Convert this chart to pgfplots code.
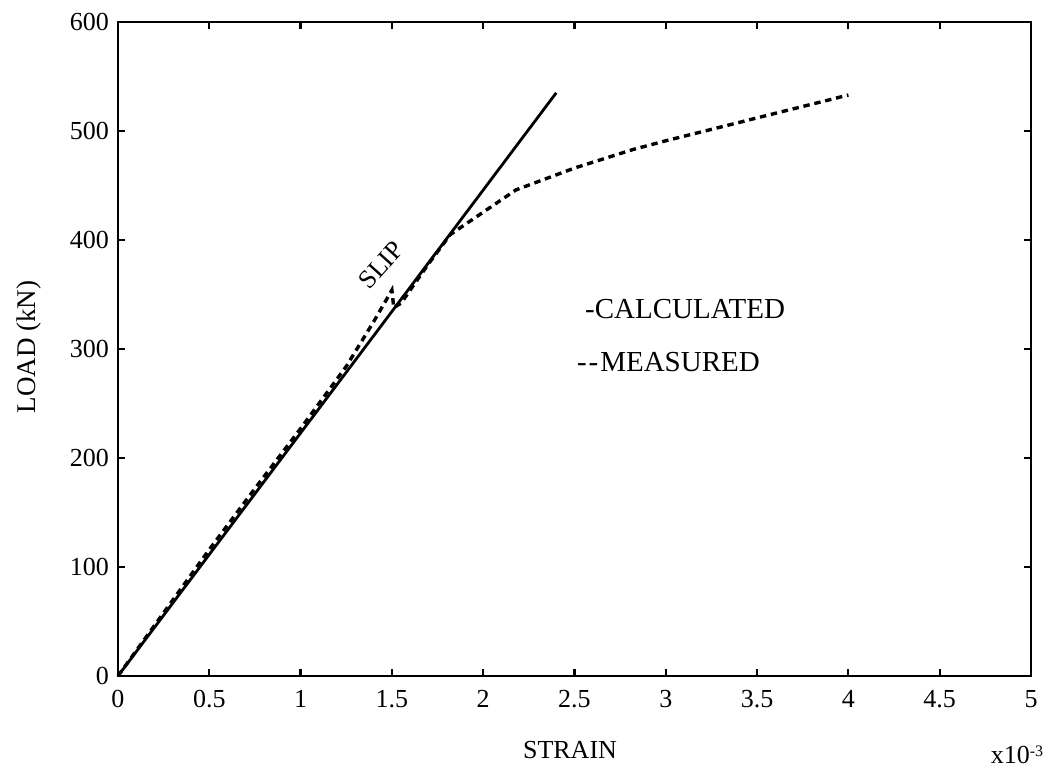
\documentclass[border=0pt]{standalone}
\usepackage{pgfplots}
\pgfplotsset{compat=1.18}
\usepackage{fontspec}
\setmainfont{Liberation Serif}
\begin{document}
\begin{tikzpicture}
\useasboundingbox (-59pt,-46.5pt) rectangle (469pt,338pt);
\begin{axis}[
  at={(0,0)}, anchor=south west,
  scale only axis,
  width=456.5pt, height=327pt,
  xmin=0, xmax=5, ymin=0, ymax=600,
  xtick={0,0.5,...,5},
  xticklabels={0,0.5,1,1.5,2,2.5,3,3.5,4,4.5,5},
  ytick={0,100,...,600},
  /pgf/number format/assume math mode=true,
  tick style={line width=1.1pt, black},
  tick align=inside,
  major tick length=3.5pt,
  axis line style={line width=1.4pt},
  ticklabel style={font=\fontsize{13}{15}\selectfont},
  xticklabel style={yshift=-3.5pt},
  yticklabel style={xshift=-1pt},
  scaled ticks=false,
  clip=false,
]
\addplot[black, line width=1.4pt] coordinates {(0,0) (2.4,535)};
\addplot[black, line width=1.7pt, dash pattern=on 3.2pt off 2.4pt] coordinates {
 (0,0) (0.25,58) (0.5,116) (0.75,172) (1.0,227) (1.25,284) (1.4,325) (1.5,354)
 (1.51,338) (1.55,342) (1.7,378) (1.82,405) (2.18,446) (2.5,466) (2.82,483)
 (3.0,491) (3.5,512) (4.0,533)};
\node[rotate=48, font=\fontsize{13}{15}\selectfont] at (axis cs:1.44,377) {SLIP};
\node[anchor=west, font=\fontsize{14.5}{17}\selectfont] at (axis cs:2.52,336.5) {-CALCULATED};
\node[anchor=west, font=\fontsize{14.5}{17}\selectfont] at (axis cs:2.475,288) {-{\kern1pt}-{\kern1pt}MEASURED};
\end{axis}
\node[font=\fontsize{13}{15}\selectfont] at (226pt,-37pt) {STRAIN};
\node[font=\fontsize{13}{15}\selectfont] at (449.5pt,-39.5pt) {x10\raisebox{0.6ex}{\footnotesize -3}};
\node[rotate=90, font=\fontsize{13.5}{15}\selectfont] at (-44.25pt,164.5pt) {LOAD (kN)};
\end{tikzpicture}
\end{document}
